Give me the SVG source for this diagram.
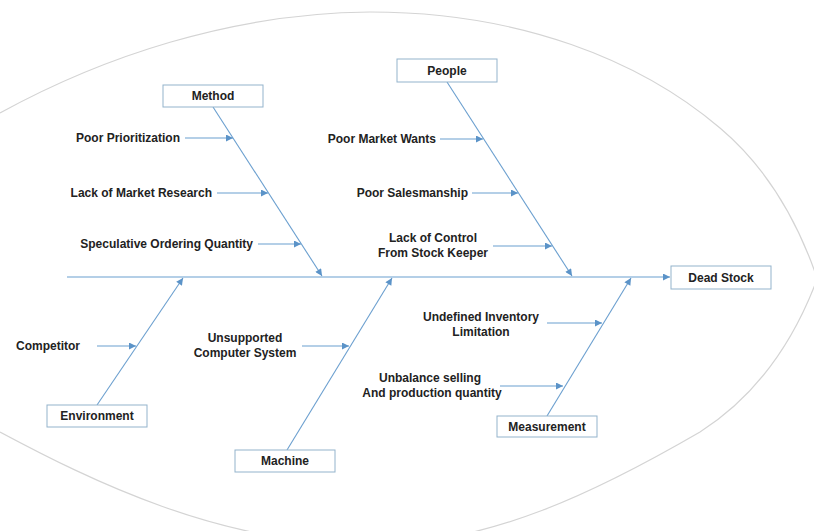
<svg xmlns="http://www.w3.org/2000/svg" width="814" height="531" viewBox="0 0 814 531">
<style>
.bg{fill:#ffffff}
.outline{fill:none;stroke:#d4d4d4;stroke-width:1.2}
.bone{fill:none;stroke:#6b9fcf;stroke-width:1.1}
.box{fill:#ffffff;stroke:#93b3cc;stroke-width:1}
.t{font-family:"Liberation Sans",Arial,sans-serif;font-size:12px;font-weight:bold;fill:#222222}
.c{text-anchor:middle}
.e{text-anchor:end}
</style>
<defs>
<marker id="ah" viewBox="0 0 10 10" refX="10" refY="5" markerWidth="8" markerHeight="7" markerUnits="userSpaceOnUse" orient="auto">
<path d="M0,0 L10,5 L0,10 Z" fill="#5b93c8"/>
</marker>
</defs>
<rect class="bg" x="0" y="0" width="814" height="531"/>
<g id="outline">
<path class="outline" d="M0,113 C100,58 230,13 370,12 C520,12 640,60 720,128 C765,166 795,215 816,275"/>
<path class="outline" d="M0,432 C90,480 220,545 370,545 C490,545 600,490 700,432 C750,400 790,350 816,282"/>
</g>
<g id="connectors">
<line class="bone" x1="67" y1="277" x2="670" y2="277" marker-end="url(#ah)"/>
<line class="bone" x1="213" y1="107" x2="322" y2="276" marker-end="url(#ah)"/>
<line class="bone" x1="447" y1="82" x2="572" y2="276" marker-end="url(#ah)"/>
<line class="bone" x1="97" y1="405" x2="183" y2="278" marker-end="url(#ah)"/>
<line class="bone" x1="287" y1="450" x2="392" y2="278" marker-end="url(#ah)"/>
<line class="bone" x1="547" y1="416" x2="631" y2="278" marker-end="url(#ah)"/>
<line class="bone" x1="185" y1="138" x2="233" y2="138" marker-end="url(#ah)"/>
<line class="bone" x1="217" y1="193" x2="268" y2="193" marker-end="url(#ah)"/>
<line class="bone" x1="258" y1="244" x2="301" y2="244" marker-end="url(#ah)"/>
<line class="bone" x1="440" y1="139" x2="483" y2="139" marker-end="url(#ah)"/>
<line class="bone" x1="472" y1="193" x2="518" y2="193" marker-end="url(#ah)"/>
<line class="bone" x1="493" y1="246" x2="552" y2="246" marker-end="url(#ah)"/>
<line class="bone" x1="97" y1="346" x2="136" y2="346" marker-end="url(#ah)"/>
<line class="bone" x1="302" y1="346" x2="349" y2="346" marker-end="url(#ah)"/>
<line class="bone" x1="547" y1="323" x2="602" y2="323" marker-end="url(#ah)"/>
<line class="bone" x1="500" y1="386" x2="563" y2="386" marker-end="url(#ah)"/>
</g>
<g id="method"><rect class="box" x="163" y="85" width="100" height="22"/><text class="t c" x="213" y="100">Method</text></g>
<g id="people"><rect class="box" x="397" y="59" width="100" height="23"/><text class="t c" x="447" y="75">People</text></g>
<g id="dead-stock"><rect class="box" x="671" y="266" width="100" height="23"/><text class="t c" x="721" y="282">Dead Stock</text></g>
<g id="environment"><rect class="box" x="47" y="405" width="100" height="22"/><text class="t c" x="97" y="420">Environment</text></g>
<g id="machine"><rect class="box" x="235" y="450" width="100" height="22"/><text class="t c" x="285" y="465">Machine</text></g>
<g id="measurement"><rect class="box" x="497" y="416" width="100" height="21"/><text class="t c" x="547" y="431">Measurement</text></g>
<g id="poor-prioritization"><text class="t e" x="180" y="142">Poor Prioritization</text></g>
<g id="lack-of-market-research"><text class="t e" x="212" y="197">Lack of Market Research</text></g>
<g id="speculative-ordering"><text class="t e" x="253" y="248">Speculative Ordering Quantity</text></g>
<g id="poor-market-wants"><text class="t e" x="436" y="143">Poor Market Wants</text></g>
<g id="poor-salesmanship"><text class="t e" x="468" y="197">Poor Salesmanship</text></g>
<g id="lack-of-control"><text class="t c" x="433" y="242">Lack of Control</text><text class="t c" x="433" y="257">From Stock Keeper</text></g>
<g id="competitor"><text class="t e" x="80" y="350">Competitor</text></g>
<g id="unsupported"><text class="t c" x="245" y="342">Unsupported</text><text class="t c" x="245" y="357">Computer System</text></g>
<g id="undefined-inventory"><text class="t c" x="481" y="321">Undefined Inventory</text><text class="t c" x="481" y="336">Limitation</text></g>
<g id="unbalance-selling"><text class="t c" x="430" y="382">Unbalance selling</text><text class="t c" x="432" y="397">And production quantity</text></g>
</svg>
